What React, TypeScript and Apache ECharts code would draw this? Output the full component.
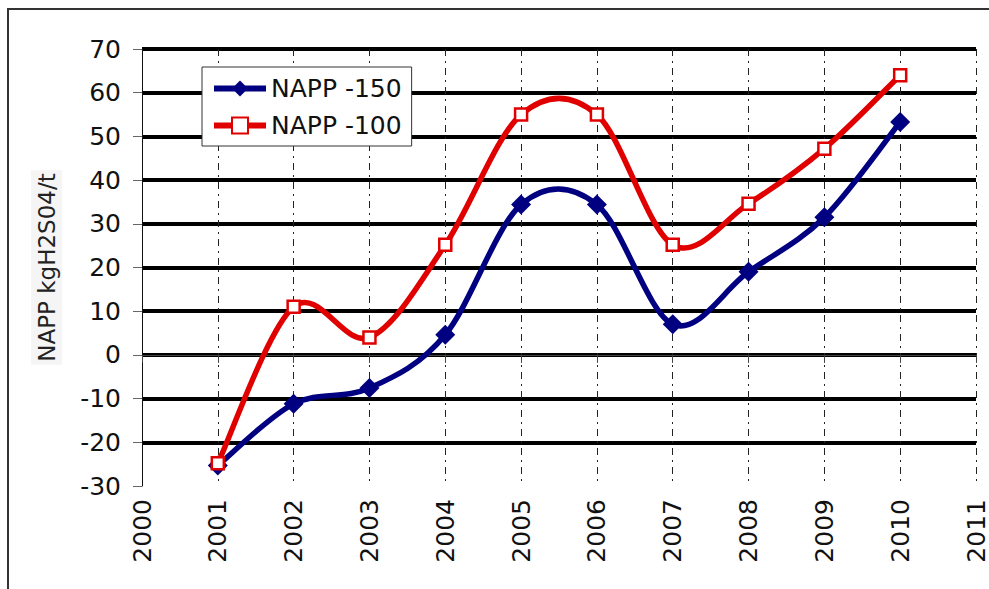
import React, { useEffect, useRef } from "react";
import * as echarts from "echarts";

const years = [2001, 2002, 2003, 2004, 2005, 2006, 2007, 2008, 2009, 2010];
const napp150 = [-25.3, -11.2, -7.6, 4.6, 34.4, 34.4, 7, 19, 31.5, 53.3];
const napp100 = [-24.8, 11, 4, 25.2, 55, 55, 25.2, 34.6, 47.2, 64];
const seriesNames = ["NAPP -150", "NAPP -100"];
const yAxisName = "NAPP kgH2S04/t";

const FONT = "DejaVu Sans";
const BLUE = "#000080";
const RED = "#e00000";
const LINE_W = 5.5;

// Excel-style smoothed curve (Bezier, tension 1/6) drawn through the axis scales
function smoothCurve(values: number[], color: string) {
  return (params: any, api: any) => {
    if (params.dataIndex !== 0) return null;
    const pts = years.map((y, i) => api.coord([y, values[i]]));
    let d = `M ${pts[0][0]} ${pts[0][1]}`;
    for (let i = 0; i < pts.length - 1; i++) {
      const p0 = pts[i - 1] || pts[i];
      const p1 = pts[i];
      const p2 = pts[i + 1];
      const p3 = pts[i + 2] || pts[i + 1];
      const c1x = p1[0] + (p2[0] - p0[0]) / 6;
      const c1y = p1[1] + (p2[1] - p0[1]) / 6;
      const c2x = p2[0] - (p3[0] - p1[0]) / 6;
      const c2y = p2[1] - (p3[1] - p1[1]) / 6;
      d += ` C ${c1x} ${c1y} ${c2x} ${c2y} ${p2[0]} ${p2[1]}`;
    }
    return {
      type: "path",
      shape: { pathData: d },
      style: { fill: "none", stroke: color, lineWidth: LINE_W, lineJoin: "round" },
    };
  };
}

export default function App() {
  const ref = useRef<HTMLDivElement>(null);
  useEffect(() => {
    if (!ref.current) return;
    const chart = echarts.init(ref.current, undefined, { renderer: "svg" });
    chart.setOption({
      animation: false,
      backgroundColor: "#ffffff",
      textStyle: { fontFamily: FONT },
      graphic: [
        {
          type: "rect",
          shape: { x: 8, y: 9, width: 1000, height: 600 },
          style: { fill: "none", stroke: "#333", lineWidth: 2 },
          silent: true,
        },
      ],
      grid: { left: 142, right: 13, top: 49, bottom: 103 },
      legend: {
        orient: "vertical",
        left: 202,
        top: 67,
        backgroundColor: "#ffffff",
        borderColor: "#333",
        borderWidth: 1,
        borderRadius: 0,
        padding: [9, 10, 8, 9],
        itemGap: 12,
        itemWidth: 52,
        itemHeight: 20,
        textStyle: { fontSize: 25, color: "#111", fontFamily: FONT },
        data: [
          { name: seriesNames[0], lineStyle: { opacity: 1, width: 6, color: BLUE } },
          { name: seriesNames[1], lineStyle: { opacity: 1, width: 6, color: RED } },
        ],
      },
      xAxis: {
        type: "value",
        min: 2000,
        max: 2011,
        interval: 1,
        axisLine: { show: true, lineStyle: { color: "#444", width: 1 } },
        axisTick: { show: true, length: 8, lineStyle: { color: "#444" } },
        axisLabel: {
          rotate: 90,
          fontSize: 25,
          color: "#111",
          margin: 13,
          fontFamily: FONT,
          formatter: (v: number) => String(v),
        },
        splitLine: {
          show: true,
          showMinLine: false,
          lineStyle: { color: "#222", width: 1, type: [7, 5, 2, 5] },
        },
      },
      yAxis: {
        type: "value",
        min: -30,
        max: 70,
        interval: 10,
        name: yAxisName,
        nameLocation: "middle",
        nameRotate: 90,
        nameGap: 80,
        nameTextStyle: {
          fontSize: 23,
          color: "#222",
          fontFamily: FONT,
          backgroundColor: "#f5f5f5",
          padding: [4, 3, 4, 3],
        },
        axisLine: { show: true, lineStyle: { color: "#111", width: 1 } },
        axisTick: { show: true, length: 9, lineStyle: { color: "#666" } },
        axisLabel: { fontSize: 25, color: "#111", margin: 21, fontFamily: FONT },
        splitLine: {
          show: true,
          showMinLine: false,
          lineStyle: { color: "#000", width: 4 },
        },
      },
      series: [
        {
          name: "curve150",
          type: "custom",
          coordinateSystem: "cartesian2d",
          data: [[years[0], napp150[0]]],
          renderItem: smoothCurve(napp150, BLUE),
          z: 2,
          silent: true,
        },
        {
          name: seriesNames[0],
          type: "line",
          data: years.map((y, i) => [y, napp150[i]]),
          symbol: "diamond",
          symbolSize: 20,
          lineStyle: { color: BLUE, width: LINE_W, opacity: 0 },
          itemStyle: { color: BLUE },
          z: 3,
        },
        {
          name: "curve100",
          type: "custom",
          coordinateSystem: "cartesian2d",
          data: [[years[0], napp100[0]]],
          renderItem: smoothCurve(napp100, RED),
          z: 4,
          silent: true,
        },
        {
          name: seriesNames[1],
          type: "line",
          data: years.map((y, i) => [y, napp100[i]]),
          symbol: "rect",
          symbolSize: 12,
          showAllSymbol: true,
          lineStyle: { color: RED, width: LINE_W, opacity: 0 },
          itemStyle: { color: "#ffffff", borderColor: RED, borderWidth: 2.5 },
          z: 5,
        },
      ],
    });
    return () => chart.dispose();
  }, []);
  return (
    <div
      ref={ref}
      style={{ position: "fixed", left: 0, top: 0, width: 989, height: 589 }}
    />
  );
}
